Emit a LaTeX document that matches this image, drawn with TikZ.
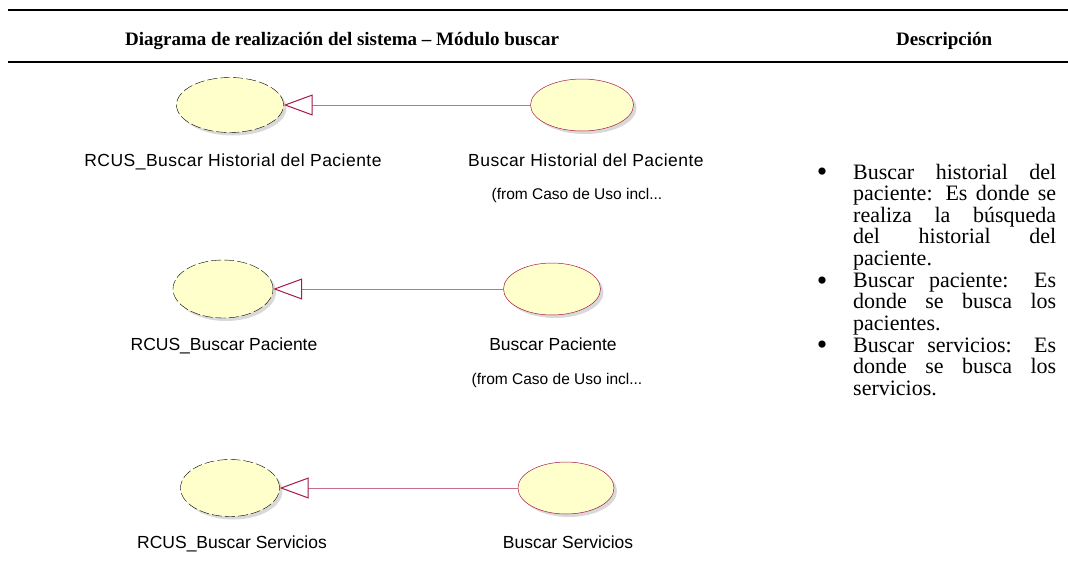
\documentclass[tikz,border=0pt]{standalone}
\usepackage{fontspec}
\setmainfont{Liberation Serif}
\newfontfamily\umlfont{Liberation Sans}
\usepackage{tikz}
\usetikzlibrary{positioning,calc,shadows,arrows.meta,shapes.geometric}

\definecolor{ucfill}{RGB}{255,255,204}
\definecolor{ucred}{RGB}{168,24,72}
\definecolor{ucline}{RGB}{200,110,140}

\tikzset{
  realiz/.style={ellipse,draw=black,dash pattern=on 10pt off 3pt,fill=ucfill,
    drop shadow={shadow xshift=3pt,shadow yshift=-3pt,opacity=.3,fill=gray}},
  caso/.style={ellipse,draw=ucred,line width=.5pt,fill=ucfill,
    drop shadow={shadow xshift=3pt,shadow yshift=-3pt,opacity=.3,fill=gray}},
  ucname/.style={anchor=base,font=\umlfont\fontsize{17.5}{20}\selectfont},
  ucwide/.style={ucname,font=\umlfont\fontsize{17.5}{20}\selectfont\addfontfeature{LetterSpace=2.7}},
  ucfrom/.style={anchor=base,font=\umlfont\fontsize{15.5}{18}\selectfont},
  realizes/.style={draw=ucline,line width=.8pt,
    -{Triangle[open,length=29pt,width=21pt,color=ucred,fill=white,line width=1pt]}},
  desc/.style={anchor=base west,text width=203pt,align=justify,inner sep=0pt,
    font=\fontsize{22}{21.65}\selectfont},
  bul/.style={anchor=center,inner sep=0pt,font=\fontsize{30}{30}\selectfont}
}

\begin{document}
\begin{tikzpicture}[x=1pt,y=-1pt]
\useasboundingbox (0,0) rectangle (1068,562);
% table head
\draw[line width=2.5pt] (8,10) -- (1068,10);
\draw[line width=2pt] (8,62) -- (1068,62);
\node[anchor=base west,inner sep=0pt,font=\bfseries\fontsize{19}{22}\selectfont] (hdiag) at (125,45) {Diagrama de realización del sistema -- Módulo buscar};
\node[anchor=base west,inner sep=0pt,font=\bfseries\fontsize{19}{22}\selectfont] (hdesc) at (896,45) {Descripción};

% use cases
\node[realiz,minimum width=107pt,minimum height=55pt] (rhist) at (230,105) {};
\node[caso,minimum width=103pt,minimum height=52pt] (hist) at (582,105) {};
\node[realiz,minimum width=100pt,minimum height=58pt] (rpac) at (223,289) {};
\node[caso,minimum width=97pt,minimum height=52pt] (pac) at (552,289) {};
\node[realiz,minimum width=99pt,minimum height=57pt] (rserv) at (230,488) {};
\node[caso,minimum width=96pt,minimum height=52pt] (serv) at (566,488) {};

\draw[realizes] (hist) -- (rhist);
\draw[realizes] (pac) -- (rpac);
\draw[realizes] (serv) -- (rserv);

\node[ucwide] (lrhist) at (233,166) {RCUS\_Buscar Historial del Paciente};
\node[ucwide] (lhist) at (586,166) {Buscar Historial del Paciente};
\node[ucfrom] (fhist) at (577,199) {(from Caso de Uso incl...};
\node[ucname] (lrpac) at (224,350) {RCUS\_Buscar Paciente};
\node[ucname] (lpac) at (553,350) {Buscar Paciente};
\node[ucfrom] (fpac) at (557,384) {(from Caso de Uso incl...};
\node[ucname] (lrserv) at (232,548) {RCUS\_Buscar Servicios};
\node[ucname] (lserv) at (568,548) {Buscar Servicios};

% description
\node[bul] (b1) at (822,175) {\textbullet};
\node[desc] (d1) at (853,179) {Buscar historial del\linebreak paciente: Es donde se\linebreak realiza la búsqueda\linebreak del historial del\linebreak paciente.};
\node[bul] (b2) at (822,283.3) {\textbullet};
\node[desc] (d2) at (853,287.3) {Buscar paciente: Es\linebreak donde se busca los\linebreak pacientes.};
\node[bul] (b3) at (822,348.2) {\textbullet};
\node[desc] (d3) at (853,352.2) {Buscar servicios: Es\linebreak donde se busca los\linebreak servicios.};
\end{tikzpicture}
\end{document}
